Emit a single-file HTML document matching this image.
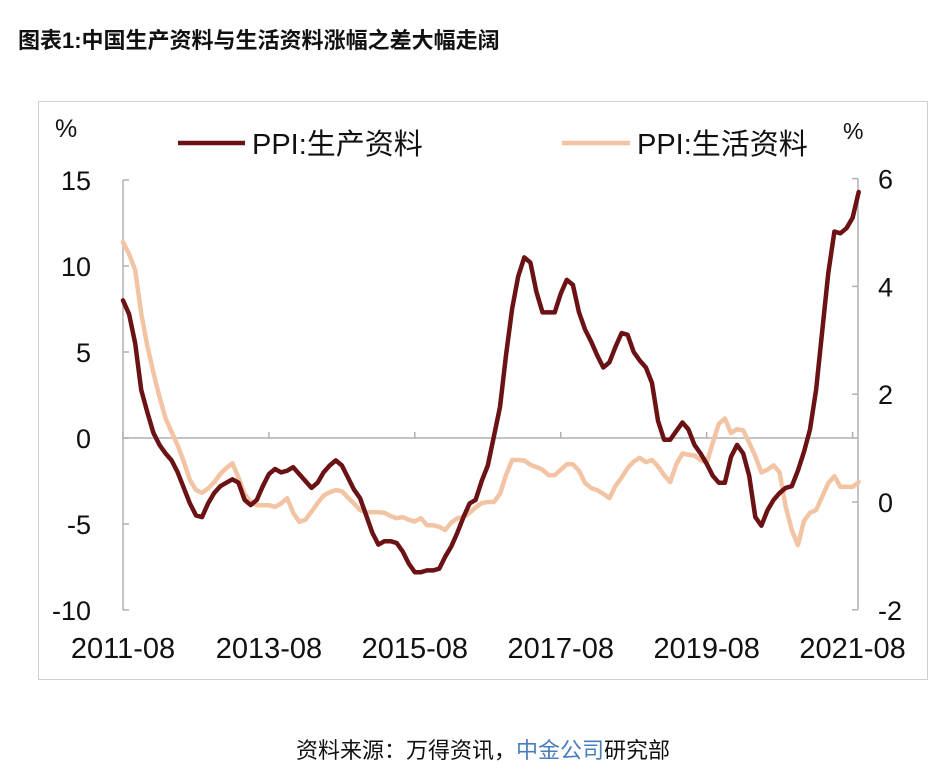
<!DOCTYPE html>
<html><head><meta charset="utf-8">
<style>
html,body{margin:0;padding:0;background:#fff;}
body{width:944px;height:775px;position:relative;overflow:hidden;font-family:"Liberation Sans","Noto Sans CJK SC",sans-serif;}
#title{position:absolute;left:18px;top:23px;font-size:22px;font-weight:bold;color:#111;white-space:nowrap;}
#src{position:absolute;left:0;width:966px;top:733px;text-align:center;font-size:22px;color:#111;}
#src span{color:#4a7ebb;}
svg{position:absolute;left:0;top:0;}
</style></head><body>
<div id="title">图表1:中国生产资料与生活资料涨幅之差大幅走阔</div>
<svg id="chart" width="944" height="775">
<rect x="38.5" y="101.5" width="889" height="578" fill="none" stroke="#cfcfcf"/>
</svg>
<div id="src">资料来源：万得资讯，<span>中金公司</span>研究部</div>
<script>
const startYear = 2011, startMonth = 8;
const leftTicks = [15, 10, 5, 0, -5, -10];
const rightTicks = [6, 4, 2, 0, -2];
const xTickLabels = ["2011-08","2013-08","2015-08","2017-08","2019-08","2021-08"];
const producerValues = [8.0,7.2,5.5,2.8,1.5,0.3,-0.4,-0.9,-1.3,-2.0,-2.9,-3.8,-4.5,-4.6,-3.8,-3.2,-2.8,-2.6,-2.4,-2.6,-3.6,-3.9,-3.6,-2.8,-2.1,-1.8,-2.0,-1.9,-1.7,-2.1,-2.5,-2.9,-2.6,-2.0,-1.6,-1.3,-1.6,-2.3,-3.0,-3.5,-4.5,-5.5,-6.2,-6.0,-6.0,-6.1,-6.6,-7.3,-7.8,-7.8,-7.7,-7.7,-7.6,-6.9,-6.3,-5.5,-4.6,-3.8,-3.6,-2.5,-1.6,0.1,1.8,4.8,7.5,9.4,10.5,10.2,8.5,7.3,7.3,7.3,8.4,9.2,8.9,7.3,6.3,5.6,4.8,4.1,4.4,5.3,6.1,6.0,5.0,4.5,4.1,3.2,1.0,-0.1,-0.1,0.4,0.9,0.5,-0.4,-0.9,-1.5,-2.2,-2.6,-2.6,-1.1,-0.4,-0.9,-2.2,-4.6,-5.1,-4.2,-3.6,-3.2,-2.9,-2.8,-1.9,-0.8,0.5,2.8,6.2,9.6,12.0,11.9,12.2,12.8,14.3];
const consumerValues = [4.82,4.6,4.3,3.5,2.9,2.4,1.95,1.55,1.3,1.05,0.75,0.41,0.22,0.17,0.25,0.37,0.52,0.63,0.72,0.45,0.15,0.0,-0.06,-0.06,-0.06,-0.09,-0.03,0.07,-0.2,-0.37,-0.33,-0.18,-0.02,0.12,0.18,0.22,0.2,0.08,-0.03,-0.15,-0.19,-0.19,-0.19,-0.2,-0.26,-0.3,-0.28,-0.33,-0.36,-0.3,-0.43,-0.43,-0.46,-0.52,-0.38,-0.3,-0.28,-0.2,-0.1,-0.02,0.0,0.0,0.15,0.5,0.78,0.78,0.77,0.69,0.65,0.6,0.5,0.5,0.6,0.7,0.7,0.58,0.35,0.26,0.22,0.15,0.07,0.3,0.45,0.63,0.75,0.82,0.74,0.78,0.66,0.5,0.37,0.7,0.9,0.88,0.86,0.78,0.73,1.1,1.45,1.55,1.28,1.35,1.33,1.1,0.85,0.55,0.6,0.68,0.55,-0.09,-0.52,-0.8,-0.35,-0.2,-0.15,0.1,0.35,0.48,0.28,0.28,0.28,0.37];

const NS="http://www.w3.org/2000/svg";
const svg=document.getElementById('chart');
const X0=123, DX=6.08;
const xScale = i => X0 + DX*i;
const yL = v => 438 - 17.2*v;
const yR = v => 502 - 53.9*v;
function mk(tag, attrs){const e=document.createElementNS(NS,tag);for(const k in attrs)e.setAttribute(k,attrs[k]);svg.appendChild(e);return e;}
const AX="#b0b0b0";
let la=mk('line',{x1:123,y1:yL(15),x2:123,y2:yL(-10),stroke:AX,'stroke-width':1.5});


leftTicks.forEach(t=>{
  let tk=mk('line',{x1:123,y1:yL(t),x2:129,y2:yL(t),stroke:AX,'stroke-width':1.5});
  
  
  let tx=mk('text',{x:91,y:yL(t)+10,'text-anchor':'end','font-size':27,fill:'#111','font-family':'Liberation Sans, sans-serif'});
  tx.textContent=t;
  
  
});
let ra=mk('line',{x1:858,y1:yR(6),x2:858,y2:yR(-2),stroke:AX,'stroke-width':1.5});


rightTicks.forEach(t=>{
  let tk=mk('line',{x1:852,y1:yR(t),x2:858,y2:yR(t),stroke:AX,'stroke-width':1.5});
  
  
  let tx=mk('text',{x:878,y:yR(t)+10,'text-anchor':'start','font-size':27,fill:'#111','font-family':'Liberation Sans, sans-serif'});
  tx.textContent=t;
  
  
});
let xa=mk('line',{x1:123,y1:yL(0),x2:858,y2:yL(0),stroke:AX,'stroke-width':1.5});


xTickLabels.forEach((lab,k)=>{
  const x=xScale(k*24);
  let tk=mk('line',{x1:x,y1:yL(0)-6,x2:x,y2:yL(0),stroke:AX,'stroke-width':1.5});
  
  
  let tx=mk('text',{x:x,y:658,'text-anchor':'middle','font-size':29,fill:'#111','font-family':'Liberation Sans, sans-serif'});
  tx.textContent=lab;
  
  
});
let u1=mk('text',{x:55,y:137,'font-size':25,fill:'#111','font-family':'Liberation Sans, sans-serif'});u1.textContent='%';


let u2=mk('text',{x:843,y:139,'font-size':23,fill:'#111','font-family':'Liberation Sans, sans-serif'});u2.textContent='%';


function path(vals, ys){return vals.map((v,i)=>(i?'L':'M')+xScale(i).toFixed(1)+','+ys(v).toFixed(1)).join('');}
let pc=mk('path',{d:path(consumerValues,yR),fill:'none',stroke:'#f2c4a4','stroke-width':4.5,'stroke-linejoin':'round','stroke-linecap':'round'});


let pp=mk('path',{d:path(producerValues,yL),fill:'none',stroke:'#6b1214','stroke-width':4.5,'stroke-linejoin':'round','stroke-linecap':'round'});


let l1=mk('line',{x1:178,y1:143,x2:245,y2:143,stroke:'#6b1214','stroke-width':4.5});


let t1=mk('text',{x:252,y:154,'font-size':29,fill:'#111','font-family':'Liberation Sans, Noto Sans CJK SC, sans-serif'});t1.textContent='PPI:生产资料';


let l2=mk('line',{x1:562,y1:143,x2:630,y2:143,stroke:'#f2c4a4','stroke-width':4.5});


let t2=mk('text',{x:637,y:154,'font-size':29,fill:'#111','font-family':'Liberation Sans, Noto Sans CJK SC, sans-serif'});t2.textContent='PPI:生活资料';


</script>
</body></html>
